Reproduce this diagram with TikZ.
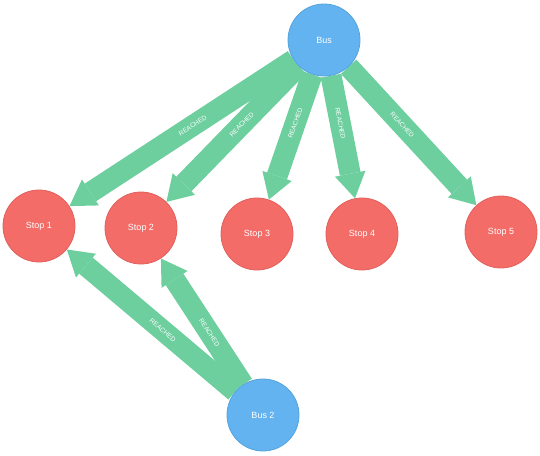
\documentclass[tikz,border=0pt]{standalone}
\usepackage{fontspec}
\setmainfont{Liberation Sans}
\usetikzlibrary{arrows.meta,backgrounds}
\definecolor{busblue}{HTML}{62B3F0}
\definecolor{busrim}{HTML}{55A3DC}
\definecolor{stopred}{HTML}{F36C67}
\definecolor{stoprim}{HTML}{E2605C}
\definecolor{reachgreen}{HTML}{6DCE9E}
\tikzset{>={Triangle[width=31pt,length=25pt,line width=0pt]},
         place/.style={circle, minimum size=72pt, inner sep=0pt, line width=0.8pt,
                       text=white, font=\fontsize{9}{10}\selectfont},
         bus/.style={place, fill=busblue, draw=busrim},
         stop/.style={place, fill=stopred, draw=stoprim},
         reached/.style={->, draw=reachgreen, line width=21pt},
         rlabel/.style={sloped, pos=#1, text=white, inner sep=0pt,
                        font=\fontsize{6.5}{7}\selectfont}}

\begin{document}
\begin{tikzpicture}[x=1pt,y=-1pt]

	\useasboundingbox (0,0) rectangle (540,455);
	\node[bus]  (bus)  at (324,40)  {Bus};
	\node[bus]  (bus2) at (263,415) {Bus 2};
	\node[stop] (s1)   at (39,226)  {Stop 1};
	\node[stop] (s2)   at (141,228) {Stop 2};
	\node[stop] (s3)   at (257,234) {Stop 3};
	\node[stop] (s4)   at (362,234) {Stop 4};
	\node[stop] (s5)   at (501,232) {Stop 5};
	\begin{scope}[on background layer]
		\draw[reached] (bus)  -- node[rlabel=0.45] {REACHED} (s1);
		\draw[reached] (bus)  -- node[rlabel=0.43] {REACHED} (s2);
		\draw[reached] (bus)  -- node[rlabel=0.39] {REACHED} (s3);
		\draw[reached] (bus)  -- node[rlabel=0.39] {REACHED} (s4);
		\draw[reached] (bus)  -- node[rlabel=0.42] {REACHED} (s5);
		\draw[reached] (bus2) -- node[rlabel=0.43] {REACHED} (s1);
		\draw[reached] (bus2) -- node[rlabel=0.41] {REACHED} (s2);
	\end{scope}
\end{tikzpicture}
\end{document}
